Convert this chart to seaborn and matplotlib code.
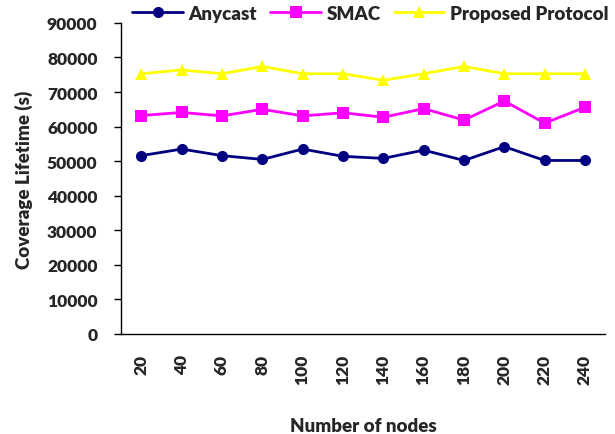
import pandas as pd
import matplotlib
matplotlib.use("Agg")
import matplotlib.pyplot as plt
import seaborn as sns

# values
nodes = ["20", "40", "60", "80", "100", "120", "140", "160", "180", "200", "220", "240"]
anycast = [51600, 53500, 51600, 50500, 53500, 51400, 50800, 53200, 50200, 54200, 50200, 50200]
smac = [63200, 64100, 63100, 65000, 63100, 64000, 62700, 65200, 61900, 67400, 61000, 65600]
proposed = [75300, 76400, 75300, 77400, 75300, 75300, 73400, 75300, 77400, 75300, 75300, 75300]

series_names = ["Anycast", "SMAC", "Proposed Protocol"]
colors = ["#000080", "#FF00FF", "#FFFF00"]
markers = ["o", "s", "^"]

df = pd.concat([
    pd.DataFrame({"nodes": nodes, "lifetime": vals, "protocol": name})
    for name, vals in zip(series_names, [anycast, smac, proposed])
])

sns.set_style("white")
plt.rcParams["font.family"] = ["Lato", "DejaVu Sans"]
plt.rcParams["font.weight"] = "heavy"

fig = plt.figure(figsize=(6.15, 4.35), dpi=100)
ax = fig.add_axes([0.197, 0.23, 0.787, 0.715])

sns.lineplot(data=df, x="nodes", y="lifetime", hue="protocol", style="protocol",
             palette=colors, markers=markers, dashes=False, markersize=8,
             markeredgewidth=0, linewidth=2, sort=False, ax=ax, legend=True)

ax.set_xlim(-0.5, len(nodes) - 0.5)
ax.set_ylim(0, 90000)
ax.set_yticks(range(0, 90001, 10000))
ax.set_yticklabels([str(v) for v in range(0, 90001, 10000)], fontsize=12.5, fontweight="heavy")
ax.set_xticks(range(len(nodes)))
ax.set_xticklabels(nodes, rotation=90, fontsize=12.5, fontweight="heavy")
ax.set_xticks([i - 0.5 for i in range(len(nodes) + 1)], minor=True)
ax.tick_params(axis="x", which="major", length=0, pad=14)
ax.tick_params(axis="x", which="minor", length=5, width=1, color="black", direction="out")
ax.tick_params(axis="y", length=5, width=1, color="black", direction="out", left=True, pad=12)

for side in ["top", "right"]:
    ax.spines[side].set_visible(False)
for side in ["left", "bottom"]:
    ax.spines[side].set_color("black")
    ax.spines[side].set_linewidth(1)

ax.set_xlabel("Number of nodes", fontsize=13.5, fontweight="heavy", labelpad=24)
ax.set_ylabel("Coverage Lifetime (s)", fontsize=13.5, fontweight="heavy", labelpad=10)

handles, labels = ax.get_legend_handles_labels()
ax.get_legend().remove()
fig.legend(handles, labels, loc="center right", bbox_to_anchor=(1.017, 0.967), ncol=3,
           frameon=False, handlelength=2.7, handletextpad=0.3, columnspacing=0.7,
           prop={"size": 13.5, "weight": "heavy"})

fig.savefig("out.png", dpi=100)
